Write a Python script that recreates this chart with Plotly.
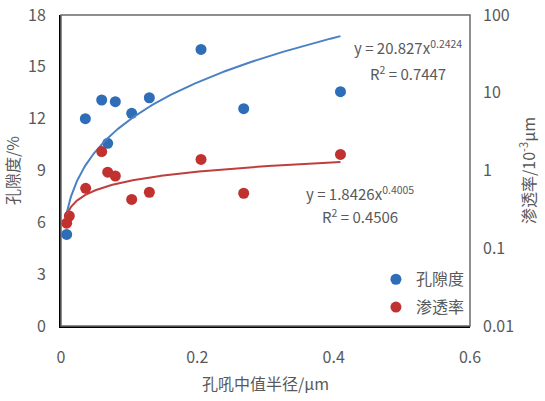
import numpy as np
import plotly.graph_objects as go

# Median pore-throat radius (μm) and measured properties
radius_por = [0.0083, 0.0357, 0.0597, 0.0685, 0.0797, 0.1037, 0.1296, 0.2054, 0.268, 0.41]
porosity = [5.3, 12.0, 13.08, 10.57, 12.98, 12.31, 13.21, 16.01, 12.58, 13.56]

radius_perm = [0.0083, 0.0122, 0.0362, 0.0597, 0.0685, 0.0797, 0.1037, 0.1296, 0.2054, 0.268, 0.41]
permeability = [0.21, 0.26, 0.59, 1.75, 0.95, 0.85, 0.425, 0.525, 1.39, 0.51, 1.61]

# Power-law fits y = a * x^b
por_fit = (20.827, 0.2424, 0.7447)
perm_fit = (1.8426, 0.4005, 0.4506)

y_ticks = [0, 3, 6, 9, 12, 15, 18]
y2_ticks = [0.01, 0.1, 1, 10, 100]
y2_labels = ["0.01", "0.1", "1", "10", "100"]
x_ticks = [0, 0.2, 0.4, 0.6]
x_labels = ["0", "0.2", "0.4", "0.6"]

BLUE = "#2E6DB8"
RED = "#C0312F"
BLUE_LINE = "#4A80C4"
RED_LINE = "#BE3F3D"
GREY = "#595959"
FONT = "Liberation Sans Narrow, Arial Narrow, Noto Sans CJK SC, sans-serif"

xs = np.linspace(min(radius_por), max(radius_por), 300)

fig = go.Figure()
fig.add_trace(go.Scatter(
    x=radius_por, y=porosity, mode="markers", name="孔隙度",
    legendgroup="a", marker=dict(color=BLUE, size=11), yaxis="y"))
fig.add_trace(go.Scatter(
    x=xs, y=por_fit[0] * xs ** por_fit[1], mode="lines", showlegend=False,
    line=dict(color=BLUE_LINE, width=2), yaxis="y", hoverinfo="skip"))
fig.add_trace(go.Scatter(
    x=radius_perm, y=permeability, mode="markers", name="渗透率",
    legendgroup="b", marker=dict(color=RED, size=11), yaxis="y2"))
fig.add_trace(go.Scatter(
    x=xs, y=perm_fit[0] * xs ** perm_fit[1], mode="lines", showlegend=False,
    line=dict(color=RED_LINE, width=2), yaxis="y2", hoverinfo="skip"))

tick_font = dict(family=FONT, size=16, color=GREY)
title_font = dict(family=FONT, size=16, color=GREY)
eq_font = dict(family=FONT, size=15, color=GREY)

fig.update_layout(
    width=545, height=401,
    margin=dict(l=61, r=75, t=15, b=75),
    paper_bgcolor="white", plot_bgcolor="white",
    font=dict(family=FONT, color=GREY),
    xaxis=dict(range=[0, 0.6], tickvals=x_ticks, ticktext=x_labels,
               showgrid=False, zeroline=False, showline=True,
               linecolor="black", linewidth=2, ticks="", automargin=False,
               ticklabelstandoff=16, tickfont=tick_font,
               title=dict(text="孔吼中值半径/μm", font=title_font, standoff=12)),
    yaxis=dict(range=[0, 18], tickvals=y_ticks, showgrid=False,
               zeroline=False, showline=True, linecolor="black", linewidth=2,
               ticks="", ticklabelstandoff=10, tickfont=tick_font, automargin=False,
               title=dict(text="孔隙度/%", font=title_font, standoff=4)),
    yaxis2=dict(type="log", range=[-2, 2], overlaying="y", side="right",
                tickvals=y2_ticks, ticktext=y2_labels, showgrid=False,
                zeroline=False, showline=False, ticks="", automargin=False,
                ticklabelstandoff=12, tickfont=tick_font,
                title=dict(text="渗透率/10<sup>-3</sup>μm", font=title_font, standoff=10)),
    legend=dict(x=0.77, y=0.105, xanchor="left", yanchor="middle",
                bgcolor="rgba(0,0,0,0)", font=dict(family=FONT, size=16, color=GREY),
                tracegroupgap=4, itemwidth=30),
    showlegend=True,
)

# Plot-area frame (top/right edges)
fig.add_shape(type="rect", xref="paper", yref="paper", x0=0, x1=1, y0=0, y1=1,
              line=dict(color="#6A6A6A", width=1.5), layer="above")

a1, b1, r1 = por_fit
a2, b2, r2 = perm_fit
fig.add_annotation(x=0.509, y=16.15, xref="x", yref="y", showarrow=False,
                   text=f"y = {a1}x<sup>{b1}</sup>", font=eq_font)
fig.add_annotation(x=0.509, y=14.64, xref="x", yref="y", showarrow=False,
                   text=f"R<sup>2</sup> = {r1}", font=eq_font)
fig.add_annotation(x=0.4386, y=7.70, xref="x", yref="y", showarrow=False,
                   text=f"y = {a2}x<sup>{b2}</sup>", font=eq_font)
fig.add_annotation(x=0.4386, y=6.37, xref="x", yref="y", showarrow=False,
                   text=f"R<sup>2</sup> = {r2}", font=eq_font)

fig.write_html("out.html")
